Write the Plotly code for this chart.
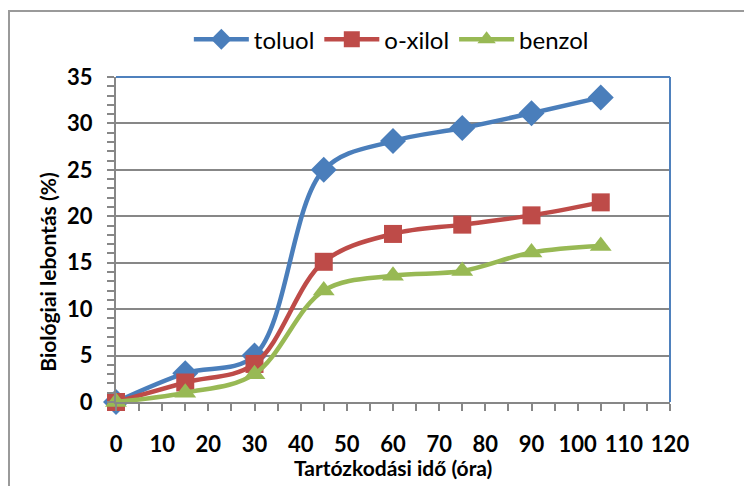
import plotly.graph_objects as go

# Residence time (hours) and biological degradation (%) per solvent
hours = [0, 15, 30, 45, 60, 75, 90, 105]
toluol = [0, 3.1, 5.0, 25.0, 28.1, 29.5, 31.1, 32.8]
o_xilol = [0, 2.1, 4.1, 15.1, 18.1, 19.1, 20.1, 21.5]
benzol = [0, 1.0, 3.0, 12.0, 13.6, 14.1, 16.1, 16.8]

x_ticks = list(range(0, 121, 10))
y_ticks = list(range(0, 36, 5))

FONT = "Lato, 'Liberation Sans', sans-serif"
GRID = "#878787"

series = [
    ("toluol", toluol, "#4A7EBB", "diamond", 20),
    ("o-xilol", o_xilol, "#BE4B48", "square", 18),
    ("benzol", benzol, "#98B954", "triangle-up", 19),
]

fig = go.Figure()
for name, vals, color, symbol, size in series:
    fig.add_trace(go.Scatter(
        x=hours, y=vals, name=name, mode="lines+markers",
        line=dict(color=color, width=4.5, shape="spline", smoothing=1.0),
        marker=dict(symbol=symbol, size=size, color=color, line=dict(width=0)),
        cliponaxis=False,
    ))

fig.update_layout(
    width=744, height=486,
    margin=dict(l=116, r=74, t=77, b=84),
    paper_bgcolor="white", plot_bgcolor="white",
    font=dict(family=FONT, color="black"),
    showlegend=True,
    legend=dict(
        orientation="h", x=0.497, xanchor="center", y=1.115, yanchor="middle",
        font=dict(size=24, family=FONT), itemwidth=55, traceorder="normal",
    ),
    xaxis=dict(
        range=[0, 120], tickvals=x_ticks, ticktext=[str(v) for v in x_ticks],
        ticks="outside", ticklen=7, tickwidth=1.5, tickcolor=GRID,
        minor=dict(dtick=5, ticks="outside", ticklen=7, tickwidth=1.5, tickcolor=GRID, showgrid=False),
        showline=True, linecolor=GRID, linewidth=2, showgrid=False, zeroline=False,
        tickfont=dict(size=22, family=FONT, weight="bold"),
        ticklabelstandoff=15,
    ),
    yaxis=dict(
        range=[0, 35], tickvals=y_ticks, ticktext=[str(v) for v in y_ticks],
        ticks="outside", ticklen=7, tickwidth=1.5, tickcolor=GRID,
        minor=dict(dtick=1, ticks="outside", ticklen=7, tickwidth=1.5, tickcolor=GRID, showgrid=False),
        showline=True, linecolor=GRID, linewidth=2,
        showgrid=True, gridcolor=GRID, gridwidth=1.5, zeroline=False,
        tickfont=dict(size=22, family=FONT, weight="bold"),
        ticklabelstandoff=10,
    ),
    annotations=[
        dict(text="Tartózkodási idő (óra)", xref="paper", yref="paper",
             x=0.5, y=-0.2, xanchor="center", yanchor="middle", showarrow=False,
             font=dict(size=21, family=FONT, weight="bold")),
        dict(text="Biológiai lebontás (%)", xref="paper", yref="paper",
             x=-0.125, y=0.40, xanchor="center", yanchor="middle", textangle=-90,
             showarrow=False, font=dict(size=21, family=FONT, weight="bold")),
    ],
    shapes=[
        # plot-area frame (top and right edges)
        dict(type="line", xref="paper", yref="paper", x0=0, x1=1, y0=1, y1=1,
             line=dict(color="#4F81BD", width=2)),
        dict(type="line", xref="paper", yref="paper", x0=1, x1=1, y0=0, y1=1,
             line=dict(color="#4F81BD", width=2)),
        # chart-area border
        dict(type="rect", xref="paper", yref="paper",
             x0=(9 - 116) / 554, x1=(760 - 116) / 554,
             y0=(402 - 500) / 325, y1=1 + (77 - 11) / 325,
             line=dict(color="#9A9A9A", width=2), layer="below"),
    ],
)

fig.write_html("out.html")
